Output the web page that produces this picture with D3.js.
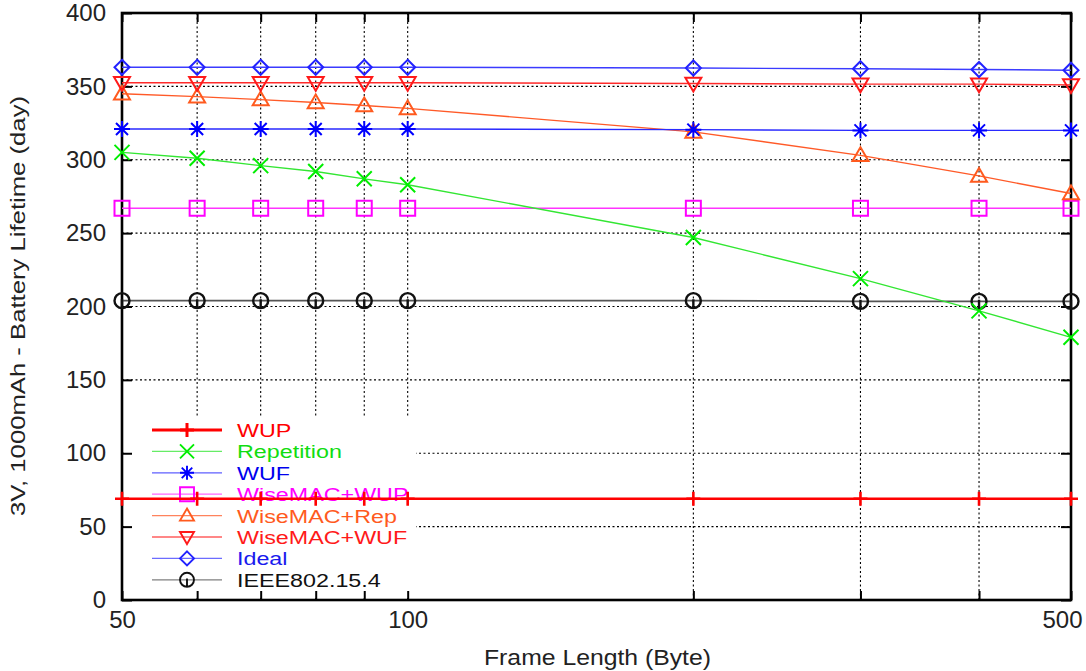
<!DOCTYPE html>
<html>
<head>
<meta charset="utf-8">
<script src="https://cdn.jsdelivr.net/npm/d3@7"></script>
<style>
  html, body { margin: 0; padding: 0; background: #fff; }
  svg { display: block; font-family: "Liberation Sans", Arial, Helvetica, sans-serif; }
</style>
</head>
<body>
<svg id="chart" width="1086" height="671"></svg>
<script>
// ---------------- data ----------------
const frameLengths = [50, 60, 70, 80, 90, 100, 200, 300, 400, 500];
const xTickLabels = [50, 100, 500];
const yTicks = [0, 50, 100, 150, 200, 250, 300, 350, 400];
const yGrid = [50, 100, 150, 200, 250, 300, 350];
const xGrid = [60, 70, 80, 90, 100, 200, 300, 400];

const seriesNames = ["WUP", "Repetition", "WUF", "WiseMAC+WUP", "WiseMAC+Rep", "WiseMAC+WUF", "Ideal", "IEEE802.15.4"];
const wupValues        = [69, 69, 69, 69, 69, 69, 69, 69, 69, 69];
const repetitionValues = [305, 301, 296, 292, 287, 283, 247, 219, 197, 179];
const wufValues        = [321, 321, 321, 321, 321, 321, 320.5, 320, 320, 320];
const wiseWupValues    = [267, 267, 267, 267, 267, 267, 267, 267, 267, 267];
const wiseRepValues    = [345, 343, 341, 339, 337, 335, 319, 303, 289, 277];
const wiseWufValues    = [352.5, 352.5, 352.5, 352.5, 352.5, 352.5, 352, 351.5, 351.5, 351];
const idealValues      = [363, 363, 363, 363, 363, 363, 362.5, 362, 361.5, 361];
const ieeeValues       = [204, 204, 204, 204, 204, 204, 204, 203.5, 203.5, 203.5];

const xLabel = "Frame Length (Byte)";
const yLabel = "3V, 1000mAh - Battery Lifetime (day)";

// ---------------- styles ----------------
const styles = [
  { values: wupValues,        line: "#ff0000", mark: "#ff0000", text: "#ff0000", shape: "plus",    lw: 2.6, ms: 7 },
  { values: repetitionValues, line: "#33e633", mark: "#00ee00", text: "#11dd11", shape: "cross",   lw: 1.4, ms: 7.5 },
  { values: wufValues,        line: "#2a2aff", mark: "#0000ff", text: "#0000ee", shape: "star",    lw: 1.4, ms: 8 },
  { values: wiseWupValues,    line: "#ff33ff", mark: "#ff00ff", text: "#ff00ff", shape: "square",  lw: 1.4, ms: 7.5 },
  { values: wiseRepValues,    line: "#ff5a28", mark: "#ff5a1e", text: "#ff5a1e", shape: "triUp",   lw: 1.4, ms: 8 },
  { values: wiseWufValues,    line: "#ff2a2a", mark: "#ff1a1a", text: "#ff1a1a", shape: "triDown", lw: 1.4, ms: 8 },
  { values: idealValues,      line: "#3b3bff", mark: "#2222ff", text: "#1a1aee", shape: "diamond", lw: 1.4, ms: 7.5 },
  { values: ieeeValues,       line: "#555555", mark: "#111111", text: "#111111", shape: "circle",  lw: 1.8, ms: 7.5 }
];

// ---------------- layout ----------------
const svg = d3.select("#chart");
const L = 122, R = 1071, T = 13, B = 600;
const x = d3.scaleLog().domain([50, 500]).range([L, R]);
const y = d3.scaleLinear().domain([0, 400]).range([B, T]);

// grid
const grid = svg.append("g").attr("stroke", "#000").attr("stroke-width", 1.1).attr("stroke-dasharray", "2,2.5");
grid.selectAll("line.h").data(yGrid).join("line")
  .attr("x1", L).attr("x2", R).attr("y1", d => y(d)).attr("y2", d => y(d));
grid.selectAll("line.v").data(xGrid).join("line")
  .attr("x1", d => x(d)).attr("x2", d => x(d)).attr("y1", T).attr("y2", B);

// legend background blanking the grid
svg.append("rect").attr("x", L + 2).attr("y", 418).attr("width", 292).attr("height", B - 418 - 2).attr("fill", "#fff");

// axes
const tickStyle = g => {
  g.select(".domain").remove();
  g.selectAll(".tick line").attr("stroke", "#000").attr("stroke-width", 2);
  g.selectAll(".tick text").attr("fill", "#222").style("font-size", "24px").style("font-family", "'Liberation Sans', Arial, sans-serif");
};
svg.append("g").attr("transform", `translate(${L},0)`)
  .call(d3.axisLeft(y).tickValues(yTicks).tickSize(-10).tickPadding(16).tickFormat(d3.format("d")))
  .call(tickStyle);
svg.append("g").attr("transform", `translate(${R},0)`)
  .call(d3.axisRight(y).tickValues(yTicks).tickSize(-10).tickFormat(""))
  .call(tickStyle);
const xAxis = svg.append("g").attr("transform", `translate(0,${B})`)
  .call(d3.axisBottom(x).tickValues(frameLengths).tickSize(-9).tickPadding(11)
    .tickFormat(d => xTickLabels.includes(d) ? String(d) : ""))
  .call(tickStyle);
xAxis.selectAll(".tick text").filter(d => d === 500).attr("dx", -9);
svg.append("g").attr("transform", `translate(0,${T})`)
  .call(d3.axisTop(x).tickValues(frameLengths).tickSize(-9).tickFormat(""))
  .call(tickStyle);

// border
svg.append("rect").attr("x", L).attr("y", T).attr("width", R - L).attr("height", B - T)
  .attr("fill", "none").attr("stroke", "#000").attr("stroke-width", 2.6);

// axis labels
svg.append("text").attr("x", (L + R) / 2 + 1).attr("y", 665).attr("text-anchor", "middle")
  .attr("fill", "#222").style("font-size", "22px")
  .attr("textLength", 227).attr("lengthAdjust", "spacingAndGlyphs").text(xLabel);
svg.append("text").attr("transform", `translate(25,${306}) rotate(-90)`).attr("text-anchor", "middle")
  .attr("fill", "#222").style("font-size", "21px")
  .attr("textLength", 420).attr("lengthAdjust", "spacingAndGlyphs").text(yLabel);

// marker shapes
function markerPath(shape, s) {
  switch (shape) {
    case "plus":    return `M${-s},0H${s}M0,${-s}V${s}`;
    case "cross":   return `M${-s},${-s}L${s},${s}M${-s},${s}L${s},${-s}`;
    case "star":    return `M${-s},0H${s}M0,${-s}V${s}M${-s*0.75},${-s*0.75}L${s*0.75},${s*0.75}M${-s*0.75},${s*0.75}L${s*0.75},${-s*0.75}`;
    case "square":  return `M${-s},${-s}H${s}V${s}H${-s}Z`;
    case "triUp":   return `M0,${-s}L${s},${s*0.72}H${-s}Z`;
    case "triDown": return `M0,${s}L${s},${-s*0.72}H${-s}Z`;
    case "diamond": return `M0,${-s}L${s},0L0,${s}L${-s},0Z`;
    case "circle":  return `M${s},0A${s},${s} 0 1,1 ${-s},0A${s},${s} 0 1,1 ${s},0ZM0,${-s*0.2}V${s}`;
  }
}

// legend
const legend = svg.append("g");
const legY0 = 430, legDy = 21.4;
styles.forEach((st, i) => {
  const ly = legY0 + i * legDy;
  legend.append("line").attr("x1", 152).attr("x2", 222).attr("y1", ly).attr("y2", ly)
    .attr("stroke", st.line).attr("stroke-width", i === 0 ? 3 : 1.3).attr("opacity", i === 0 ? 1 : 0.75);
  legend.append("path").attr("d", markerPath(st.shape, 7)).attr("transform", `translate(187,${ly})`)
    .attr("fill", "none").attr("stroke", st.mark).attr("stroke-width", i === 0 ? 3 : 1.9);
  legend.append("text").attr("x", 237).attr("y", ly + 7).attr("fill", st.text)
    .attr("transform", `translate(237,0) scale(1.26,1) translate(-237,0)`)
    .style("font-size", "18.5px").text(seriesNames[i]);
});

// data
const lineGen = d3.line().x(d => x(d[0])).y(d => y(d[1]));
const order = [7, 3, 1, 4, 2, 5, 6, 0];
order.forEach(i => {
  const st = styles[i];
  const pts = frameLengths.map((f, k) => [f, st.values[k]]);
  svg.append("path").datum(pts).attr("d", lineGen).attr("fill", "none")
    .attr("stroke", st.line).attr("stroke-width", st.lw);
  svg.append("g").selectAll("path").data(pts).join("path")
    .attr("d", markerPath(st.shape, st.ms))
    .attr("transform", d => `translate(${x(d[0])},${y(d[1])})`)
    .attr("fill", "none").attr("stroke", st.mark).attr("stroke-width", i === 0 ? 2.6 : (i === 7 ? 2.4 : 2));
});
</script>
</body>
</html>
